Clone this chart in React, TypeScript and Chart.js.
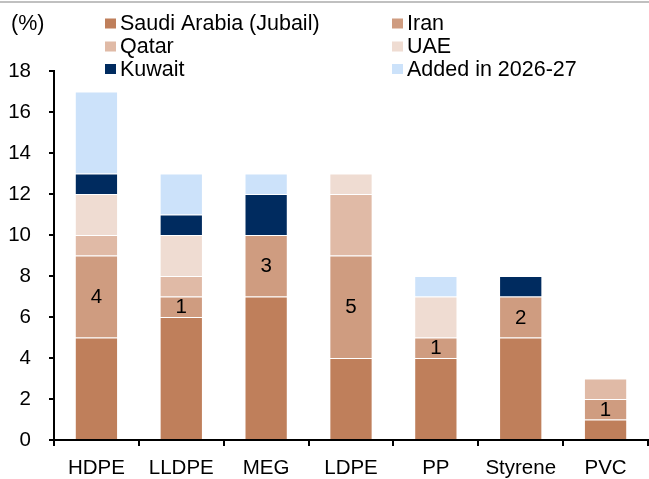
import React, { useEffect, useRef } from "react";
import { Chart, registerables } from "chart.js";

Chart.register(...registerables);

const categories = ["HDPE", "LLDPE", "MEG", "LDPE", "PP", "Styrene", "PVC"];
const seriesNames = ["Saudi Arabia (Jubail)", "Iran", "Qatar", "UAE", "Kuwait", "Added in 2026-27"];
const saudi = [5, 6, 7, 4, 4, 5, 1];
const iran = [4, 1, 3, 5, 1, 2, 1];
const qatar = [1, 1, 0, 3, 0, 0, 1];
const uae = [2, 2, 0, 1, 2, 0, 0];
const kuwait = [1, 1, 2, 0, 0, 1, 0];
const added = [4, 2, 1, 0, 1, 0, 0];
const yTicks = [0, 2, 4, 6, 8, 10, 12, 14, 16, 18];
const seriesColors = ["#BF7F5B", "#CF9C80", "#E0BAA6", "#EFDCD2", "#002B5F", "#CCE2FA"];
const unitLabel = "(%)";
const labelSeriesIndex = 1;

const FONT = "'Liberation Sans', Arial, sans-serif";

const decorPlugin = {
  id: "decor",
  afterDraw(chart: any) {
    const ctx = chart.ctx;
    ctx.save();
    // top gray rule
    ctx.fillStyle = "#C0C0C0";
    ctx.fillRect(0, 1, chart.width, 2);
    // unit label
    ctx.fillStyle = "#000";
    ctx.font = `21.5px ${FONT}`;
    ctx.textBaseline = "middle";
    ctx.textAlign = "left";
    ctx.fillText(unitLabel, 11, 24);
    // legend
    const colX = [105, 392];
    const rowY = [23.5, 46.5, 69];
    chart.data.datasets.forEach((ds: any, i: number) => {
      const x = colX[i % 2];
      const y = rowY[Math.floor(i / 2)];
      ctx.fillStyle = ds.backgroundColor;
      ctx.fillRect(x, y - 5, 11, 10);
      ctx.fillStyle = "#000";
      ctx.font = `21.5px ${FONT}`;
      ctx.textBaseline = "middle";
      ctx.textAlign = "left";
      ctx.fillText(ds.label, x + 15, y + 1);
    });
    // data labels on Iran segments
    const meta = chart.getDatasetMeta(labelSeriesIndex);
    const vals = chart.data.datasets[labelSeriesIndex].data;
    ctx.font = `20.5px ${FONT}`;
    ctx.textAlign = "center";
    ctx.textBaseline = "middle";
    ctx.fillStyle = "#000";
    meta.data.forEach((el: any, j: number) => {
      const v = vals[j];
      if (v == null) return;
      const cy = (el.y + el.base) / 2;
      ctx.fillText(String(v), el.x, cy + 1);
    });
    ctx.restore();
  },
};

export default function App() {
  const ref = useRef<HTMLCanvasElement>(null);
  useEffect(() => {
    if (!ref.current) return;
    const series = [saudi, iran, qatar, uae, kuwait, added];
    const chart = new Chart(ref.current, {
      type: "bar",
      data: {
        labels: categories,
        datasets: series.map((d, i) => ({
          label: seriesNames[i],
          data: d.map((v) => (v === 0 ? null : v)),
          backgroundColor: seriesColors[i],
          borderColor: "rgba(255,255,255,0.18)",
          borderWidth: 1,
          borderSkipped: "start",
          categoryPercentage: 0.51,
          barPercentage: 1,
        })),
      },
      options: {
        responsive: false,
        animation: false,
        layout: { padding: { top: 71, right: 1, left: 0, bottom: 0 } },
        plugins: {
          legend: { display: false },
          tooltip: { enabled: false },
          title: { display: false },
        },
        scales: {
          x: {
            stacked: true,
            border: { color: "#000", width: 2 },
            grid: {
              offset: true,
              drawOnChartArea: false,
              drawTicks: true,
              tickLength: 6,
              color: "#000",
              lineWidth: 2,
            },
            ticks: {
              color: "#000",
              font: { family: FONT, size: 20.5 },
              padding: 10,
              maxRotation: 0,
            },
            afterFit: (s: any) => {
              s.height = 39;
            },
          },
          y: {
            stacked: true,
            min: 0,
            max: 18,
            afterBuildTicks: (s: any) => {
              s.ticks = yTicks.map((v) => ({ value: v }));
            },
            border: { color: "#000", width: 2 },
            grid: {
              drawOnChartArea: false,
              drawTicks: true,
              tickLength: 5,
              color: "#000",
              lineWidth: 2,
            },
            ticks: {
              color: "#000",
              font: { family: FONT, size: 20.5 },
              padding: 18,
            },
            afterFit: (s: any) => {
              s.width = 54;
            },
          },
        },
      },
      plugins: [decorPlugin],
    });
    return () => chart.destroy();
  }, []);
  return (
    <div style={{ position: "fixed", left: 0, top: 0, width: 649, height: 479, background: "#fff" }}>
      <canvas ref={ref} width={649} height={479} style={{ display: "block" }} />
    </div>
  );
}
